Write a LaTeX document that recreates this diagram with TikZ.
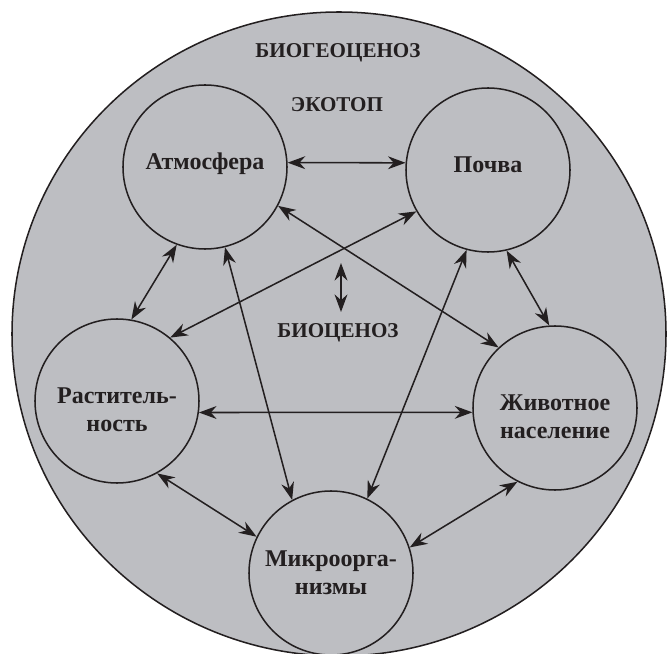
\documentclass[tikz,border=0pt]{standalone}
\usepackage{fontspec}
\setmainfont{Liberation Serif}
\usepackage{tikz}
\usetikzlibrary{arrows.meta}
\definecolor{myink}{RGB}{35,31,32}
\definecolor{mygray}{RGB}{189,190,194}
\tikzset{
  sphere/.style={circle, draw=myink, fill=mygray, text=myink,
    minimum size=4.92cm, inner sep=0pt, align=center,
    font=\bfseries\fontsize{20.5}{24}\selectfont, line width=1.3pt},
  caption/.style={text=myink, font=\bfseries\fontsize{18}{22}\selectfont},
  arrow/.style={{Stealth[length=15pt, width=11pt]}-{Stealth[length=15pt, width=11pt]},
    line width=1.3pt, color=myink}
}

\begin{document}
\begin{tikzpicture}[x=0.03cm, y=-0.03cm]
  \useasboundingbox (0,0) rectangle (668,654);
  \clip (0,0) rectangle (668,654);

  % Biogeocenosis
  \draw[line width=1.3pt, draw=myink, fill=mygray] (339,334) ellipse [x radius=327, y radius=322];
  \node[caption] (biogeo) at (338,53) {БИОГЕОЦЕНОЗ};
  \node[caption] (ecotop) at (337,105) {ЭКОТОП};
  \node[caption] (biocen) at (338,333) {БИОЦЕНОЗ};

  % Components
  \node[sphere, text depth=9.5pt] (atmo) at (205,167) {Атмосфера};
  \node[sphere, text depth=8.5pt] (soil) at (488,170) {Почва};
  \node[sphere, text height=52pt] (plants) at (117,401) {Раститель-\\ность};
  \node[sphere, text height=52pt] (animals) at (555,408) {Животное\\население};
  \node[sphere] (microbes) at (331,573) {Микроорга-\\низмы};

  % Links
  \draw[arrow] (atmo.3) -- (soil.175);
  \draw[arrow] (atmo.250) -- (plants.80);
  \draw[arrow] (atmo.332) -- (animals.133);
  \draw[arrow] (atmo.284) -- (microbes.118);
  \draw[arrow] (soil.210) -- (plants.50);
  \draw[arrow] (soil.283) -- (animals.94);
  \draw[arrow] (soil.255) -- (microbes.64);
  \draw[arrow] (plants.352) -- (animals.183);
  \draw[arrow] (plants.299) -- (microbes.154);
  \draw[arrow] (animals.243) -- (microbes.18);

  % Ecotop <-> biocenosis
  \coordinate (up) at (341,263);
  \coordinate (down) at (341,312);
  \draw[arrow] (up) -- (down);
\end{tikzpicture}
\end{document}
